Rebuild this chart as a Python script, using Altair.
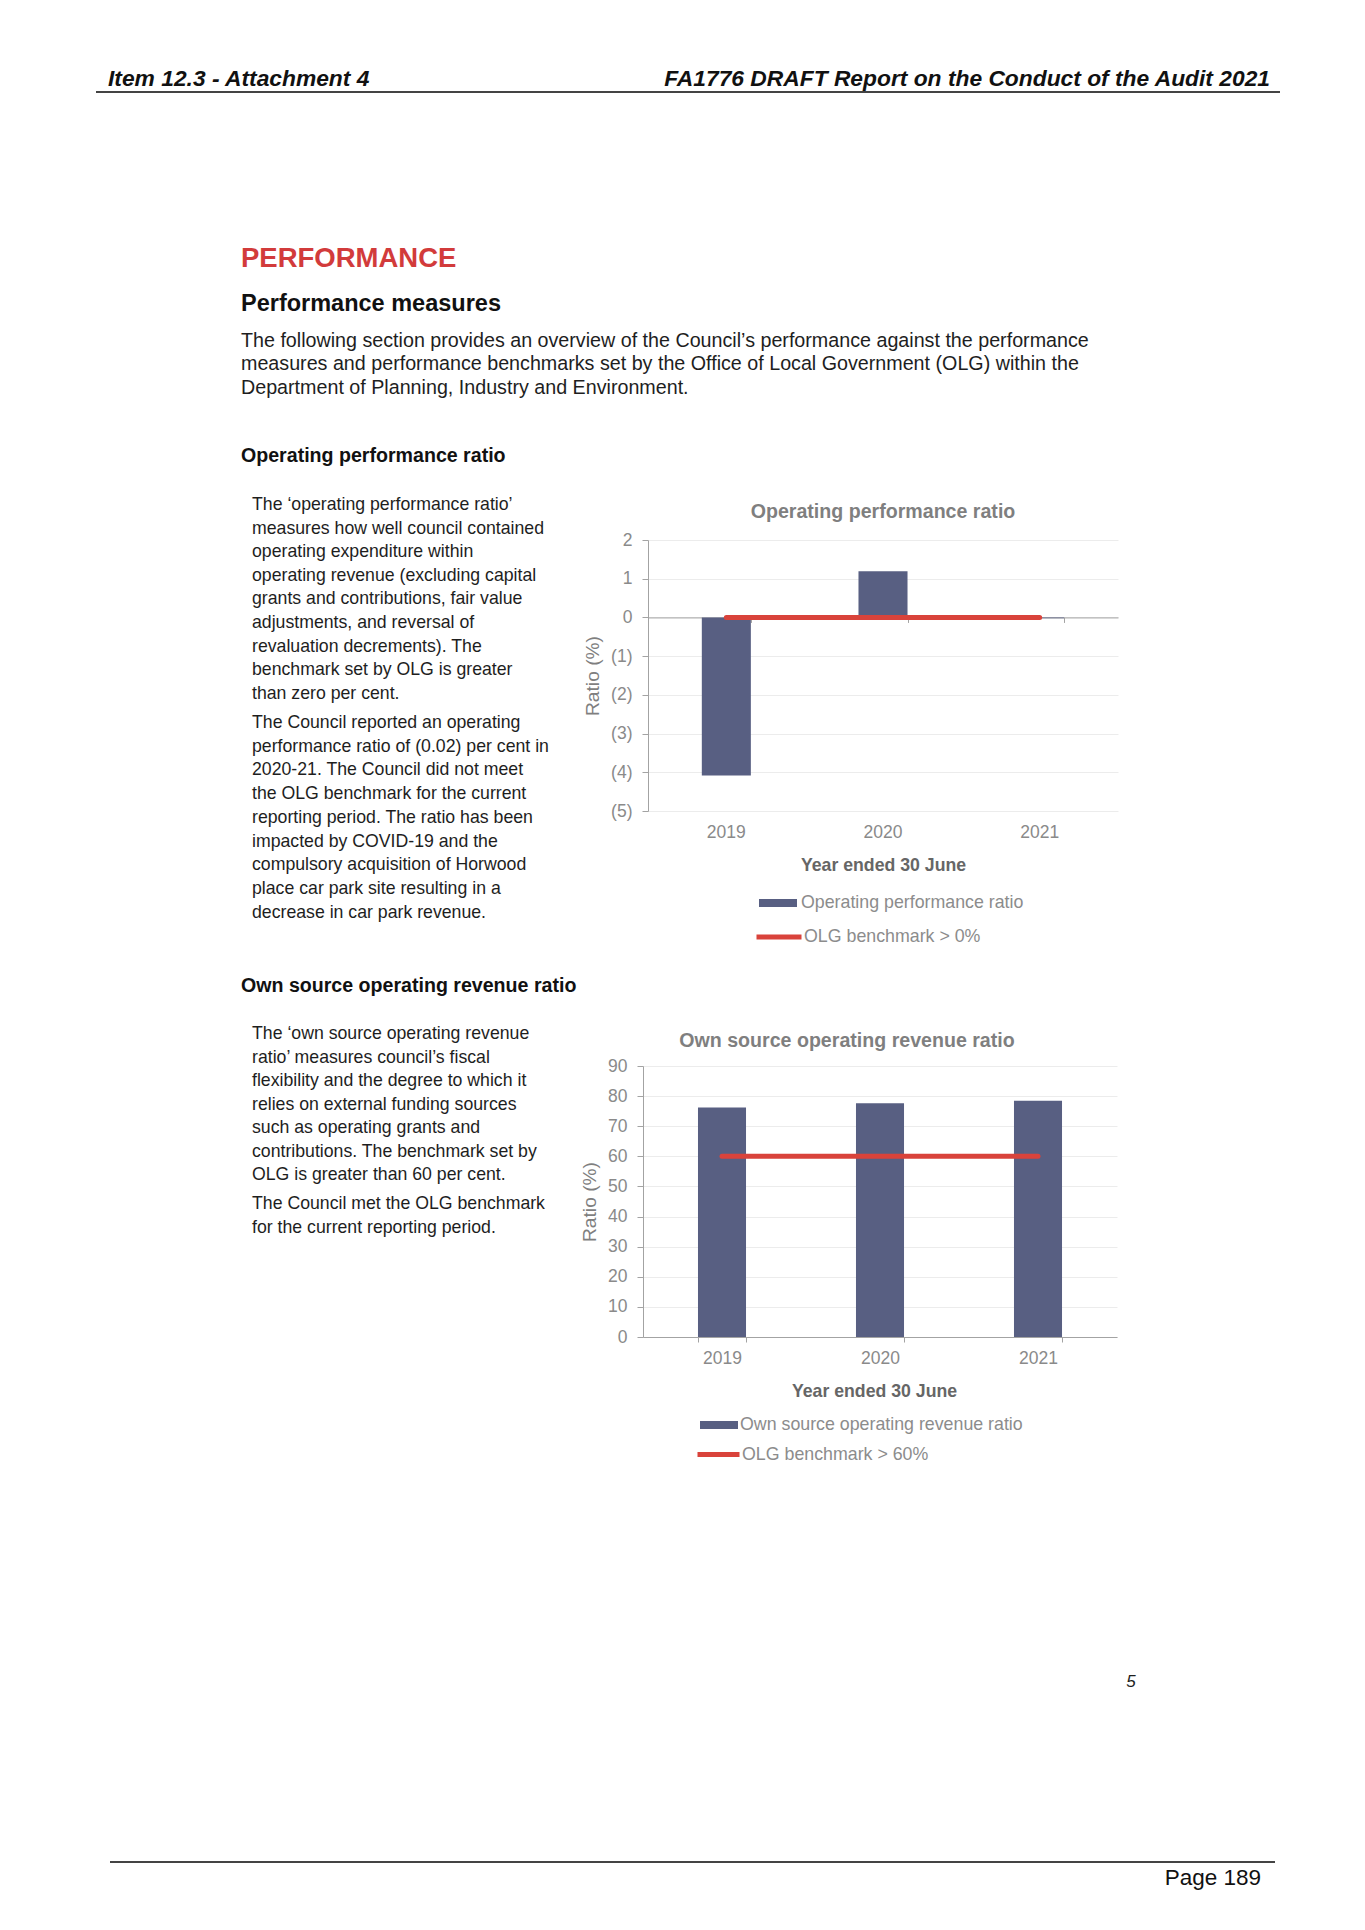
import altair as alt
import pandas as pd

# ---------------- data ----------------
years = ["2019", "2020", "2021"]
op_ratio = [-4.08, 1.19, -0.02]
op_benchmark = [0, 0, 0]
own_ratio = [76.2, 77.6, 78.5]
own_benchmark = [60, 60, 60]

op_label = "Operating performance ratio"
op_bench_label = "OLG benchmark > 0%"
own_label = "Own source operating revenue ratio"
own_bench_label = "OLG benchmark > 60%"
x_title = "Year ended 30 June"
y_title = "Ratio (%)"
op_ticks = [-5, -4, -3, -2, -1, 0, 1, 2]
own_ticks = [0, 10, 20, 30, 40, 50, 60, 70, 80, 90]

header_left = "Item 12.3 - Attachment 4"
header_right = "FA1776 DRAFT Report on the Conduct of the Audit 2021"
section_title = "PERFORMANCE"
sub_title = "Performance measures"
intro_lines = [
    "The following section provides an overview of the Council\u2019s performance against the performance",
    "measures and performance benchmarks set by the Office of Local Government (OLG) within the",
    "Department of Planning, Industry and Environment.",
]
heading1 = "Operating performance ratio"
para1a = [
    "The \u2018operating performance ratio\u2019",
    "measures how well council contained",
    "operating expenditure within",
    "operating revenue (excluding capital",
    "grants and contributions, fair value",
    "adjustments, and reversal of",
    "revaluation decrements). The",
    "benchmark set by OLG is greater",
    "than zero per cent.",
]
para1b = [
    "The Council reported an operating",
    "performance ratio of (0.02) per cent in",
    "2020-21. The Council did not meet",
    "the OLG benchmark for the current",
    "reporting period. The ratio has been",
    "impacted by COVID-19 and the",
    "compulsory acquisition of Horwood",
    "place car park site resulting in a",
    "decrease in car park revenue.",
]
heading2 = "Own source operating revenue ratio"
para2a = [
    "The \u2018own source operating revenue",
    "ratio\u2019 measures council\u2019s fiscal",
    "flexibility and the degree to which it",
    "relies on external funding sources",
    "such as operating grants and",
    "contributions. The benchmark set by",
    "OLG is greater than 60 per cent.",
]
para2b = [
    "The Council met the OLG benchmark",
    "for the current reporting period.",
]
page_number = "5"
page_footer = "Page 189"

# ---------------- styles ----------------
FONT = "Liberation Sans"
M = 8
INK = "#1e1e1e"
RED_TXT = "#d23b3b"
BAR = "#585f82"
RED = "#d9433b"
GRID = "#ececec"
AXIS = "#a3a3a3"
LABEL = "#8a8a8a"
TITLE = "#7f7f7f"
XTITLE = "#666666"
LEG = "#8c8c8c"
BAR_SYMBOL = "M-1,-0.21H1V0.21H-1Z"

one_row = pd.DataFrame({"k": [0]})


def text_block(lines, x, y, size, color=INK, weight="normal", style="normal",
               align="left", lh=None):
    txt = lines if isinstance(lines, str) else (lines if len(lines) > 1 else lines[0])
    return alt.Chart(one_row).mark_text(
        text=txt, font=FONT, fontSize=size, fontWeight=weight, fontStyle=style,
        color=color, align=align, baseline="alphabetic",
        lineHeight=lh if lh else size * 1.2,
    ).encode(x=alt.value(x - M), y=alt.value(y - M))


def hrule(x1, x2, y, color="#444444", w=2):
    return alt.Chart(one_row).mark_rule(color=color, strokeWidth=w).encode(
        x=alt.value(x1 - M), x2=alt.value(x2 - M), y=alt.value(y - M))


def spacer(w, h):
    return alt.Chart(one_row).mark_text(text=" ").encode(
        x=alt.value(0), y=alt.value(0)).properties(width=w, height=h)


page = alt.layer(
    text_block(header_left, 108, 86, 22.8, color="#111111", weight="bold", style="italic"),
    text_block(header_right, 1270, 86, 22.8, color="#111111", weight="bold", style="italic", align="right"),
    hrule(96, 1280, 92),
    text_block(section_title, 241, 267, 27.5, color=RED_TXT, weight="bold"),
    text_block(sub_title, 241, 311, 23.5, color="#111111", weight="bold"),
    text_block(intro_lines, 241, 347, 19.7, lh=23.4),
    text_block(heading1, 241, 462, 19.6, color="#111111", weight="bold"),
    text_block(para1a, 252, 510, 17.7, lh=23.6),
    text_block(para1b, 252, 728, 17.7, lh=23.7),
    text_block(heading2, 241, 992, 19.6, color="#111111", weight="bold"),
    text_block(para2a, 252, 1039, 17.7, lh=23.5),
    text_block(para2b, 252, 1209, 17.7, lh=23.7),
    text_block(page_number, 1131, 1687, 17, style="italic", align="center"),
    hrule(110, 1275, 1862),
    text_block(page_footer, 1261, 1885, 22.5, color="#111111", align="right"),
).properties(width=1349, height=532)


def y_axis(values, expr, label_pad, title_pad):
    return alt.Axis(values=values, labelExpr=expr, title=y_title, grid=True, gridColor=GRID,
                    domainColor=AXIS, tickColor=AXIS, tickSize=6, labelPadding=label_pad,
                    labelFont=FONT, labelFontSize=17.5, labelColor=LABEL,
                    titleFont=FONT, titleFontSize=19.2, titleFontWeight="normal",
                    titleColor=TITLE, titlePadding=title_pad)


def legend_fill(lx, ly, off):
    return alt.Legend(orient="none", legendX=lx, legendY=ly, title=None, padding=0,
                      symbolType=BAR_SYMBOL, symbolSize=1444, symbolStrokeWidth=0,
                      labelFont=FONT, labelFontSize=17.8, labelColor=LEG,
                      labelOffset=off, labelLimit=500)


def legend_stroke(lx, ly, off, size):
    return alt.Legend(orient="none", legendX=lx, legendY=ly, title=None, padding=0,
                      symbolType="stroke", symbolSize=size, symbolStrokeWidth=5,
                      labelFont=FONT, labelFontSize=17.8, labelColor=LEG,
                      labelOffset=off, labelLimit=500)


# ---------------- chart 1 ----------------
op_df = pd.DataFrame({"year": years, "ratio": op_ratio, "benchmark": op_benchmark,
                      "series": op_label, "bench": op_bench_label})
W1, H1 = 470, 271
x1 = alt.Scale(domain=years, paddingInner=0.687, paddingOuter=0.3435)
y1 = alt.Scale(domain=[op_ticks[0], op_ticks[-1]], nice=False)
neg_expr = "datum.value < 0 ? '(' + (-datum.value) + ')' : '' + datum.value"
y1_axis = y_axis(op_ticks, neg_expr, 10, 8)

bars1 = alt.Chart(op_df).mark_bar(color=BAR).encode(
    x=alt.X("year:N", scale=x1, axis=alt.Axis(
        orient="bottom", domain=False, ticks=False, grid=False, labelAngle=0,
        labelPadding=12, labelFont=FONT, labelFontSize=17.5, labelColor=LABEL,
        title=x_title, titleFont=FONT, titleFontSize=17.7, titleFontWeight="bold",
        titleColor=XTITLE, titlePadding=16)),
    y=alt.Y("ratio:Q", scale=y1, axis=y1_axis),
    color=alt.Color("series:N", scale=alt.Scale(domain=[op_label], range=[BAR]),
                    legend=legend_fill(111, 344, 4)),
)
zero_offset = -H1 * (0 - y1.domain[0]) / (y1.domain[1] - y1.domain[0])
line1 = alt.Chart(op_df).mark_line(strokeWidth=5, strokeCap="round").encode(
    x=alt.X("year:N", scale=x1, axis=alt.Axis(
        orient="bottom", offset=zero_offset, labels=False, domain=True, domainColor=AXIS,
        ticks=True, tickColor=AXIS, tickSize=5, tickBand="extent", grid=False, title=None)),
    y=alt.Y("benchmark:Q", scale=y1, axis=y1_axis),
    stroke=alt.Stroke("bench:N", scale=alt.Scale(domain=[op_bench_label], range=[RED]),
                      legend=legend_stroke(106, 372, 0, 2025)),
)
chart1 = alt.layer(bars1, line1).resolve_axis(x="independent").properties(
    width=W1, height=H1,
    title=alt.Title(op_label, font=FONT, fontSize=19.6, fontWeight="bold", color=TITLE,
                    anchor="middle", frame="group", offset=8))

# ---------------- chart 2 ----------------
own_df = pd.DataFrame({"year": years, "ratio": own_ratio, "benchmark": own_benchmark,
                       "series": own_label, "bench": own_bench_label})
W2, H2 = 474, 271
x2 = alt.Scale(domain=years, paddingInner=0.696, paddingOuter=0.348)
y2 = alt.Scale(domain=[own_ticks[0], own_ticks[-1]], nice=False)
x2_axis = alt.Axis(
    orient="bottom", domain=True, domainColor=AXIS, ticks=True, tickColor=AXIS,
    tickSize=5, tickBand="extent", grid=False, labelAngle=0,
    labelPadding=7, labelFont=FONT, labelFontSize=17.5, labelColor=LABEL,
    title=x_title, titleFont=FONT, titleFontSize=17.7, titleFontWeight="bold",
    titleColor=XTITLE, titlePadding=16, titleX=W2 / 2 - 6)
y2_axis = y_axis(own_ticks, "'' + datum.value", 10, 8)

bars2 = alt.Chart(own_df).mark_bar(color=BAR).encode(
    x=alt.X("year:N", scale=x2, axis=x2_axis),
    y=alt.Y("ratio:Q", scale=y2, axis=y2_axis),
    color=alt.Color("series:N", scale=alt.Scale(domain=[own_label], range=[BAR]),
                    legend=legend_fill(57, 340, 2)),
)
line2 = alt.Chart(own_df).mark_line(strokeWidth=5, strokeCap="round").encode(
    x=alt.X("year:N", scale=x2, axis=x2_axis),
    y=alt.Y("benchmark:Q", scale=y2, axis=y2_axis),
    stroke=alt.Stroke("bench:N", scale=alt.Scale(domain=[own_bench_label], range=[RED]),
                      legend=legend_stroke(52, 365, 0, 1764)),
)
chart2 = alt.layer(bars2, line2).properties(
    width=W2, height=H2,
    title=alt.Title(own_label, font=FONT, fontSize=19.6, fontWeight="bold", color=TITLE,
                    anchor="middle", frame="group", offset=5, dx=-33))

# nested rows count as zero height in the flush layout, so the spacer rows
# below them carry their height
row1 = alt.hconcat(spacer(640, H1), chart1, spacing=0, bounds="flush").resolve_scale(
    color="independent", stroke="independent")
row3 = alt.hconcat(spacer(635, H2), chart2, spacing=0, bounds="flush").resolve_scale(
    color="independent", stroke="independent")

chart = alt.vconcat(
    page, row1, spacer(1349, H1 + 255), row3, spacer(1349, H2 + 585),
    spacing=0, bounds="flush", padding=0, background="white",
).resolve_scale(color="independent", stroke="independent").configure_view(stroke=None)

chart.save("out.html", embed_options={"renderer": "svg", "actions": False})
